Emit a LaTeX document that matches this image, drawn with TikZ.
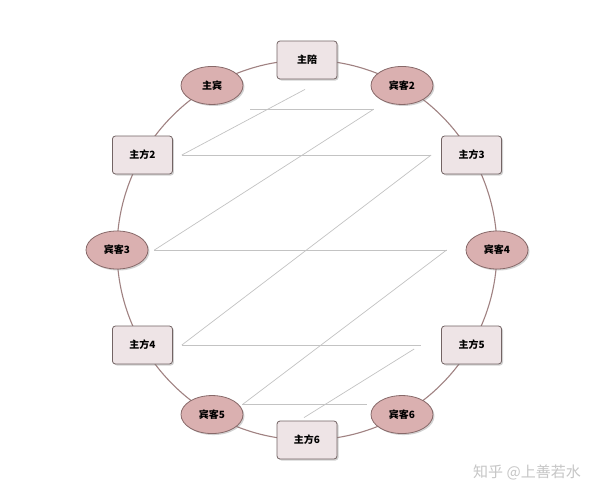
\documentclass[tikz,border=0pt]{standalone}
\usepackage{fontspec}
\newfontfamily\cjk{Noto Sans CJK SC}
\usetikzlibrary{shapes.geometric,shadows,calc}
\definecolor{ringc}{RGB}{160,130,130}
\definecolor{boxfill}{RGB}{238,228,230}
\definecolor{boxdraw}{RGB}{115,100,100}
\definecolor{ellfill}{RGB}{218,176,176}
\definecolor{elldraw}{RGB}{135,105,105}
\definecolor{zz}{RGB}{195,195,195}
\tikzset{
  hostbox/.style={draw=boxdraw, fill=boxfill, line width=0.8pt, rounded corners=3pt,
    minimum width=60pt, minimum height=38pt, inner sep=0pt,
    drop shadow={shadow xshift=1.5pt, shadow yshift=-1.5pt, opacity=0.35},
    font=\cjk\bfseries\fontsize{10}{12}\selectfont},
  guestell/.style={draw=elldraw, fill=ellfill, line width=0.8pt, ellipse,
    minimum width=62pt, minimum height=38pt, inner sep=0pt,
    drop shadow={shadow xshift=1.5pt, shadow yshift=-1.5pt, opacity=0.35},
    font=\cjk\bfseries\fontsize{10}{12}\selectfont},
  zline/.style={draw=zz, line width=0.7pt},
  ring/.style={draw=ringc, line width=1.1pt}
}
\begin{document}
\begin{tikzpicture}[x=1pt,y=1pt]
\useasboundingbox (0,0) rectangle (610,-498);
\fill[white] (0,0) rectangle (610,-498);
\coordinate (c) at (307,-250);
\draw[ring] (c) circle (190);
% nodes
\node[hostbox]  (zp)  at ($(c)+(90:190)$)   {主陪};
\node[guestell] (zb)  at ($(c)+(120:190)$)  {主宾};
\node[guestell] (bk2) at ($(c)+(60:190)$)   {宾客2};
\node[hostbox]  (zf2) at ($(c)+(150:190)$)  {主方2};
\node[hostbox]  (zf3) at ($(c)+(30:190)$)   {主方3};
\node[guestell] (bk3) at ($(c)+(180:190)$)  {宾客3};
\node[guestell] (bk4) at ($(c)+(0:190)$)    {宾客4};
\node[hostbox]  (zf4) at ($(c)+(210:190)$)  {主方4};
\node[hostbox]  (zf5) at ($(c)+(330:190)$)  {主方5};
\node[guestell] (bk5) at ($(c)+(240:190)$)  {宾客5};
\node[guestell] (bk6) at ($(c)+(300:190)$)  {宾客6};
\node[hostbox]  (zf6) at ($(c)+(270:190)$)  {主方6};
% host zigzag
\draw[zline] ($(zp.south)+(-2,-10)$) -- ($(zf2.east)+(9,0)$);
\draw[zline] ($(zf2.east)+(9,0)$) -- ($(zf3.west)+(-10,0)$);
\draw[zline] ($(zf3.west)+(-10,0)$) -- ($(zf4.east)+(9,0)$);
\draw[zline] ($(zf4.east)+(9,0)$) -- ($(zf5.west)+(-20,0)$);
\draw[zline] ($(zf5.west)+(-27,-4)$) -- ($(zf6.north)+(-3,3)$);
% guest zigzag
\draw[zline] ($(zb.south east)+(16,-10)$) -- ($(bk2.south west)+(-6,-10)$);
\draw[zline] ($(bk2.south west)+(-6,-10)$) -- ($(bk3.east)+(6,0)$);
\draw[zline] ($(bk3.east)+(6,0)$) -- ($(bk4.west)+(-19,0)$);
\draw[zline] ($(bk4.west)+(-19,0)$) -- ($(bk5.east)+(-1,10)$);
\draw[zline] ($(bk5.east)+(-1,10)$) -- ($(bk6.west)+(-4,10)$);
% watermark
\node[text=gray!45, font=\cjk\fontsize{15}{18}\selectfont] (wm) at (527,-472) {知乎 @上善若水};
\end{tikzpicture}
\end{document}
